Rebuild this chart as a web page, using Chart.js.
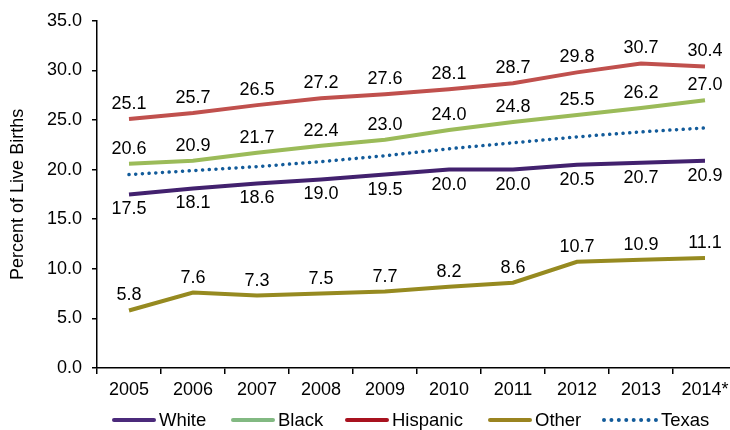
<!DOCTYPE html>
<html>
<head>
<meta charset="utf-8">
<script src="https://cdn.jsdelivr.net/npm/chart.js@4/dist/chart.umd.min.js"></script>
<style>
  html, body { margin: 0; padding: 0; background: #fff; overflow: hidden; }
  #wrap { position: relative; width: 737px; height: 430px; }
  #legend { position: absolute; left: 0; top: 409px; width: 737px; height: 22px;
            font-family: 'Liberation Sans', Arial, sans-serif; font-size: 18.5px; color: #000; }
  .item { position: absolute; top: 0; display: flex; align-items: center; height: 22px; }
  .swatch { width: 44px; height: 0; border-top: 4px solid; margin-right: 3px; border-radius: 2px; }
  .swatch.dots { border-top: 4px dotted; border-radius: 0; width: 56px; }
</style>
</head>
<body>
<div id="wrap">
  <canvas id="chart"></canvas>
  <div id="legend"></div>
</div>
<script>
// ── Data ─────────────────────────────────────────────
const years    = ['2005', '2006', '2007', '2008', '2009', '2010', '2011', '2012', '2013', '2014*'];
const white    = [17.5, 18.1, 18.6, 19.0, 19.5, 20.0, 20.0, 20.5, 20.7, 20.9];
const black    = [20.6, 20.9, 21.7, 22.4, 23.0, 24.0, 24.8, 25.5, 26.2, 27.0];
const hispanic = [25.1, 25.7, 26.5, 27.2, 27.6, 28.1, 28.7, 29.8, 30.7, 30.4];
const other    = [5.8, 7.6, 7.3, 7.5, 7.7, 8.2, 8.6, 10.7, 10.9, 11.1];
const texas    = [19.5, 19.9, 20.3, 20.8, 21.4, 22.1, 22.7, 23.3, 23.8, 24.2];
const yTicks   = [0, 5, 10, 15, 20, 25, 30, 35];

const FONT = "'Liberation Sans', Arial, sans-serif";

// ── Series styling ───────────────────────────────────
const series = [
  { label: 'White',    data: white,    color: '#42216e', legendColor: '#4b2a7b', labelPos: 'below' },
  { label: 'Black',    data: black,    color: '#9bbb59', legendColor: '#82b982', labelPos: 'above' },
  { label: 'Hispanic', data: hispanic, color: '#c0504d', legendColor: '#a8121f', labelPos: 'above' },
  { label: 'Other',    data: other,    color: '#968a20', legendColor: '#9a8420', labelPos: 'above' },
  { label: 'Texas',    data: texas,    color: '#125b9a', legendColor: '#125b9a', labelPos: null, dotted: true },
];

// ── Value labels drawn next to each point ────────────
const valueLabels = {
  id: 'valueLabels',
  afterDatasetsDraw(chart) {
    const ctx = chart.ctx;
    ctx.save();
    ctx.font = '18px ' + FONT;
    ctx.fillStyle = '#000';
    ctx.textAlign = 'center';
    ctx.textBaseline = 'middle';
    chart.data.datasets.forEach((ds, i) => {
      if (!ds.labelPos) return;
      chart.getDatasetMeta(i).data.forEach((pt, j) => {
        const dy = ds.labelPos === 'below' ? 15 : -15;
        ctx.fillText(ds.data[j].toFixed(1), pt.x, pt.y + dy);
      });
    });
    ctx.restore();
  }
};

new Chart(document.getElementById('chart'), {
  type: 'line',
  data: {
    labels: years,
    datasets: series.map(s => ({
      label: s.label,
      data: s.data,
      labelPos: s.labelPos,
      borderColor: s.color,
      backgroundColor: s.color,
      borderWidth: s.dotted ? 3.5 : 4,
      borderDash: s.dotted ? [0.1, 6.6] : [],
      borderCapStyle: s.dotted ? 'round' : 'butt',
      pointRadius: 0,
      tension: 0,
      fill: false,
      order: s.dotted ? 0 : 1,
    })),
  },
  options: {
    responsive: true,
    maintainAspectRatio: false,
    animation: false,
    layout: { padding: { top: 20, right: 0, bottom: 32, left: 0 } },
    plugins: {
      legend: { display: false },
      tooltip: { enabled: false },
    },
    scales: {
      x: {
        type: 'category',
        offset: true,
        afterFit: s => { s.height = 30; },
        border: { color: '#000', width: 1.5 },
        grid: { offset: true, drawOnChartArea: false, color: '#000', tickLength: 6, lineWidth: 1.5 },
        ticks: { color: '#000', font: { family: FONT, size: 18 }, padding: 5, maxRotation: 0 },
      },
      y: {
        min: 0,
        max: 35,
        afterFit: s => { s.width = 97; },
        afterBuildTicks: s => { s.ticks = yTicks.map(v => ({ value: v })); },
        border: { color: '#000', width: 1.5 },
        grid: { drawOnChartArea: false, color: '#000', tickLength: 5, lineWidth: 1.5 },
        ticks: {
          color: '#000',
          font: { family: FONT, size: 18 },
          padding: 10,
          callback: v => v.toFixed(1),
        },
        title: {
          display: true,
          text: 'Percent of Live Births',
          color: '#000',
          font: { family: FONT, size: 18 },
          padding: { top: 7, bottom: 4 },
        },
      },
    },
  },
  plugins: [valueLabels],
});

// ── Legend row ───────────────────────────────────────
const legendLeft = [112, 231, 345, 488, 602];
const legend = document.getElementById('legend');
series.forEach((s, i) => {
  const item = document.createElement('div');
  item.className = 'item';
  item.style.left = legendLeft[i] + 'px';
  const sw = document.createElement('span');
  sw.className = 'swatch' + (s.dotted ? ' dots' : '');
  sw.style.borderTopColor = s.legendColor;
  const txt = document.createElement('span');
  txt.textContent = s.label;
  item.appendChild(sw);
  item.appendChild(txt);
  legend.appendChild(item);
});
</script>
</body>
</html>
